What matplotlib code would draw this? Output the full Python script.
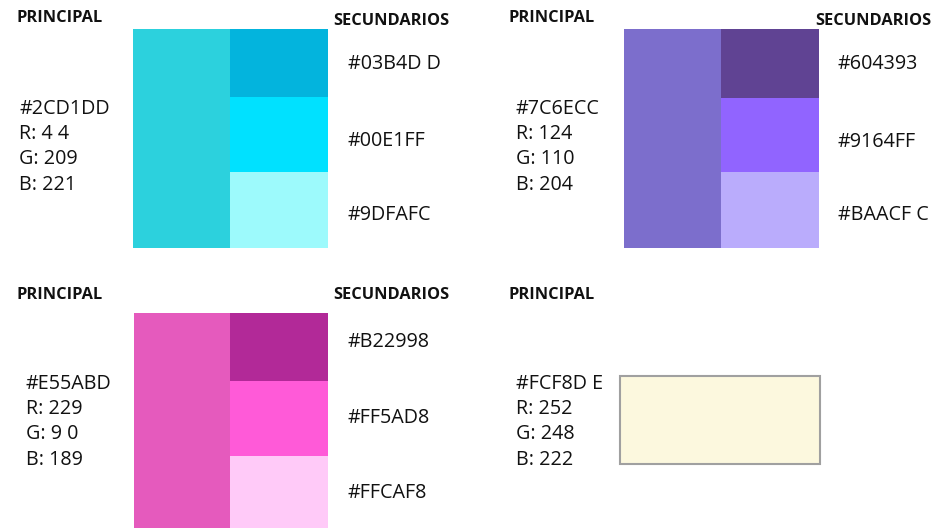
import matplotlib
matplotlib.use("Agg")
import matplotlib.pyplot as plt
from matplotlib.patches import Rectangle

plt.rcParams['font.family'] = ['Open Sans', 'DejaVu Sans']

# ---- data ----
principal_hex = ["#2CD1DD", "#7C6ECC", "#E55ABD", "#FCF8DE"]
principal_labels = ["#2CD1DD", "#7C6ECC", "#E55ABD", "#FCF8D E"]
principal_rgb = [["R: 4 4", "G: 209", "B: 221"],
                 ["R: 124", "G: 110", "B: 204"],
                 ["R: 229", "G: 9 0", "B: 189"],
                 ["R: 252", "G: 248", "B: 222"]]
secondary_hex = [["#03B4DD", "#00E1FF", "#9DFAFC"],
                 ["#604393", "#9164FF", "#BAACFC"],
                 ["#B22998", "#FF5AD8", "#FFCAF8"],
                 []]
secondary_labels = [["#03B4D D", "#00E1FF", "#9DFAFC"],
                    ["#604393", "#9164FF", "#BAACF C"],
                    ["#B22998", "#FF5AD8", "#FFCAF8"],
                    []]
header_main = "PRINCIPAL"
header_sec = "SECUNDARIOS"

# ---- layout (pixels) ----
W, H = 947, 528
fig = plt.figure(figsize=(W / 100, H / 100), dpi=100)
ax = fig.add_axes([0, 0, 1, 1])
ax.set_xlim(0, W)
ax.set_ylim(H, 0)
ax.axis("off")

panels = [
    dict(hx=17, hy=18, sx=333, sy=21, mx0=133, mx1=230, sx1=328, y0=29, y1=248,
         splits=[97, 172], tx=348, ty=[64, 141, 215], lx=19, ly=109),
    dict(hx=508, hy=18, sx=815, sy=21, mx0=624, mx1=721, sx1=819, y0=29, y1=248,
         splits=[98, 172], tx=838, ty=[64, 142, 215], lx=516, ly=109),
    dict(hx=17, hy=295, sx=333, sy=295, mx0=134, mx1=230, sx1=328, y0=313, y1=528,
         splits=[381, 456], tx=348, ty=[342, 418, 493], lx=26, ly=384),
    dict(hx=508, hy=295, box=(620, 376, 820, 464), lx=516, ly=384),
]

fs_head = 11.8
fs_txt = 14.2
line = 25.2

for i, p in enumerate(panels):
    ax.text(p["hx"], p["hy"], header_main, fontsize=fs_head, fontweight="bold",
            ha="left", va="center", color="#111111")
    if secondary_hex[i]:
        ax.text(p["sx"], p["sy"], header_sec, fontsize=fs_head, fontweight="bold",
                ha="left", va="center", color="#111111")
        ax.add_patch(Rectangle((p["mx0"], p["y0"]), p["mx1"] - p["mx0"], p["y1"] - p["y0"],
                               facecolor=principal_hex[i], edgecolor="none"))
        edges = [p["y0"]] + p["splits"] + [p["y1"]]
        for j, c in enumerate(secondary_hex[i]):
            ax.add_patch(Rectangle((p["mx1"], edges[j]), p["sx1"] - p["mx1"],
                                   edges[j + 1] - edges[j], facecolor=c, edgecolor="none"))
            ax.text(p["tx"], p["ty"][j], secondary_labels[i][j], fontsize=fs_txt,
                    ha="left", va="center", color="#111111")
    else:
        x0, y0, x1, y1 = p["box"]
        ax.add_patch(Rectangle((x0, y0), x1 - x0, y1 - y0, facecolor=principal_hex[i],
                               edgecolor="#A0A0A0", linewidth=1.5))
    lines = [principal_labels[i]] + principal_rgb[i]
    for k, t in enumerate(lines):
        ax.text(p["lx"], p["ly"] + k * line, t, fontsize=fs_txt, ha="left", va="center",
                color="#111111")

fig.savefig("out.png", dpi=100)
